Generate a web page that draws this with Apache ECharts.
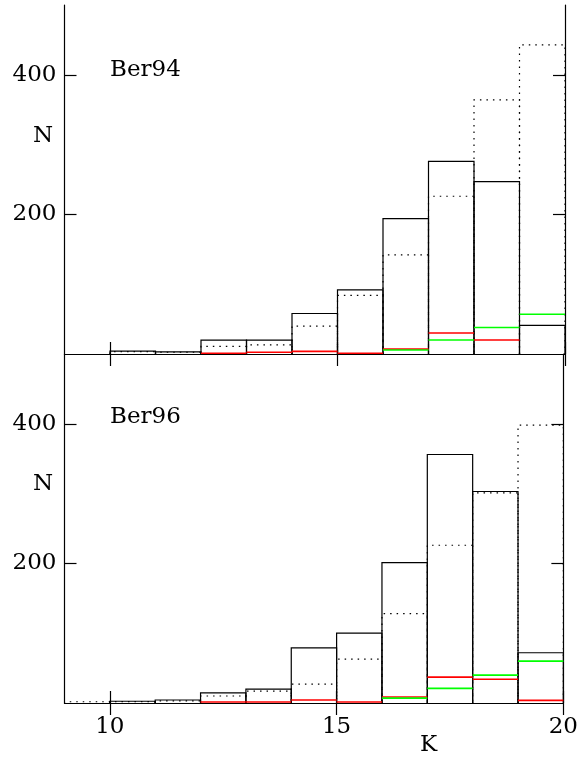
<!DOCTYPE html>
<html>
<head>
<meta charset="utf-8">
<script src="https://cdn.jsdelivr.net/npm/echarts@6/dist/echarts.min.js"></script>
<style>html,body{margin:0;padding:0;background:#fff}#c{width:581px;height:758px}</style>
</head>
<body>
<div id="c"></div>
<script>
// Bin edges in K (bins of width 1)
const kEdges = [9, 10, 11, 12, 13, 14, 15, 16, 17, 18, 19, 20];
const xTicks = [10, 15, 20];
const yTicks = [200, 400];
const panelNames = ['Ber94', 'Ber96'];

// Ber94 panel
const ber94Solid  = [0, 4, 3, 20, 20, 58, 92, 194, 276, 247, 41];
const ber94Dotted = [0, 3.5, 2.5, 11, 13, 40, 84, 142, 226, 364, 443];
const ber94Red    = [0, 0, 0, 1, 2.4, 3.8, 1, 7, 30, 20, 0];
const ber94Green  = [0, 0, 0, 0, 0, 0, 0, 5.7, 20, 38, 57];

// Ber96 panel
const ber96Solid  = [0, 2.5, 4.3, 14.5, 20, 79, 100, 201, 356, 303, 72];
const ber96Dotted = [1.8, 2, 3, 10, 17, 27, 63, 128, 226, 301, 398];
const ber96Red    = [0, 0, 0, 1.4, 1.4, 4.3, 1.4, 8.5, 37, 34, 3.8];
const ber96Green  = [0, 0, 0, 0, 0, 0, 0, 7, 21, 40, 60];

const FONT = 'DejaVu Serif';

function binData(vals) {
  return vals.map((v, i) => [kEdges[i], kEdges[i + 1], v]);
}

function boxRender(color, dash) {
  return function (params, api) {
    const x0 = api.value(0), x1 = api.value(1), v = api.value(2);
    if (!v) return;
    const pts = [api.coord([x0, 0]), api.coord([x0, v]), api.coord([x1, v]), api.coord([x1, 0])];
    return {type: 'polyline', shape: {points: pts},
      style: {stroke: color, lineWidth: 1.2, fill: null, lineDash: dash || null}};
  };
}
function topRender(color) {
  return function (params, api) {
    const x0 = api.value(0), x1 = api.value(1), v = api.value(2);
    if (!v) return;
    const a = api.coord([x0, v]), b = api.coord([x1, v]);
    return {type: 'line', shape: {x1: a[0], y1: a[1], x2: b[0], y2: b[1]},
      style: {stroke: color, lineWidth: 1.6}};
  };
}

function series(xi, yi, vals, render) {
  return {type: 'custom', xAxisIndex: xi, yAxisIndex: yi, data: binData(vals),
    renderItem: render, encode: {x: [0, 1], y: 2}, clip: true, silent: true};
}

const axLine = {show: true, lineStyle: {color: '#000', width: 1.2}};
function xAx(grid, pos, labels) {
  return {type: 'value', gridIndex: grid, position: pos, min: 9, max: 20,
    axisLine: axLine, splitLine: {show: false},
    axisTick: {show: true, inside: true, length: 12, customValues: xTicks, lineStyle: {color: '#000', width: 1.2}},
    axisLabel: {show: labels, customValues: xTicks, color: '#000', fontFamily: FONT, fontSize: 23, margin: 13}};
}
function yAx(grid, pos, labels) {
  return {type: 'value', gridIndex: grid, position: pos, min: 0, max: 500,
    axisLine: axLine, splitLine: {show: false},
    axisTick: {show: true, inside: true, length: 12, customValues: yTicks, lineStyle: {color: '#000', width: 1.2}},
    axisLabel: {show: labels, customValues: yTicks, color: '#000', fontFamily: FONT, fontSize: 23, margin: 8,
      padding: [0, 0, 12, 0]}};
}

const chart = echarts.init(document.getElementById('c'), null, {renderer: 'canvas'});
const dotDash = [1.5, 5];
chart.setOption({
  animation: false,
  backgroundColor: '#fff',
  grid: [
    {left: 64.5, right: 16, top: 5, height: 349},
    {left: 64.5, right: 16, top: 354, height: 349}
  ],
  xAxis: [xAx(0, 'bottom', false), xAx(0, 'top', false), xAx(1, 'bottom', true), xAx(1, 'top', false)],
  yAxis: [yAx(0, 'left', true), yAx(0, 'right', false), yAx(1, 'left', true), yAx(1, 'right', false)],
  series: [
    series(0, 0, ber94Dotted, boxRender('#000', dotDash)),
    series(0, 0, ber94Solid, boxRender('#000')),
    series(0, 0, ber94Red, topRender('#ff0000')),
    series(0, 0, ber94Green, topRender('#00ff00')),
    series(2, 2, ber96Dotted, boxRender('#000', dotDash)),
    series(2, 2, ber96Solid, boxRender('#000')),
    series(2, 2, ber96Red, topRender('#ff0000')),
    series(2, 2, ber96Green, topRender('#00ff00'))
  ],
  graphic: [
    {type: 'text', left: 110, top: 59, style: {text: panelNames[0], fill: '#000', font: '23px "DejaVu Serif"'}},
    {type: 'text', left: 110, top: 406, style: {text: panelNames[1], fill: '#000', font: '23px "DejaVu Serif"'}},
    {type: 'text', left: 33, top: 125, style: {text: 'N', fill: '#000', font: '23px "DejaVu Serif"'}},
    {type: 'text', left: 33, top: 473, style: {text: 'N', fill: '#000', font: '23px "DejaVu Serif"'}},
    {type: 'text', left: 420, top: 734, style: {text: 'K', fill: '#000', font: '23px "DejaVu Serif"'}}
  ]
});
</script>
</body>
</html>
